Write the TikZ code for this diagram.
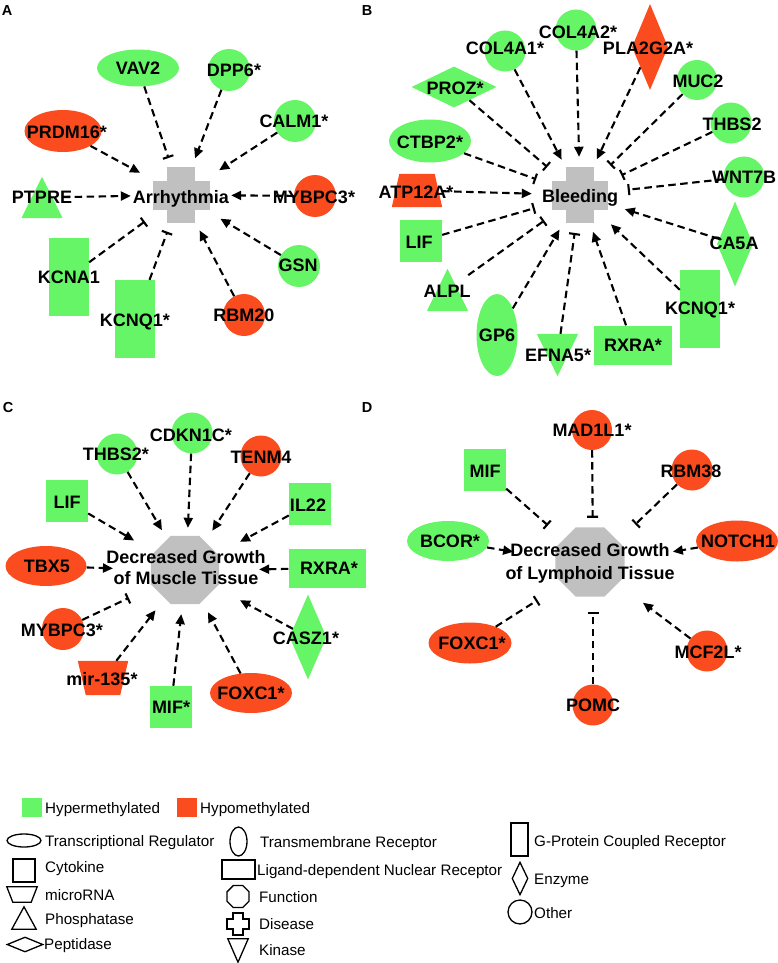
\documentclass[tikz,border=0pt]{standalone}
\usepackage{fontspec}
\setmainfont{Liberation Sans}
\usetikzlibrary{shapes.geometric,arrows.meta}
\definecolor{grn}{RGB}{102,245,102}
\definecolor{org}{RGB}{250,76,30}
\definecolor{gry}{RGB}{192,192,192}
\begin{document}
\begin{tikzpicture}[x=1pt,y=-1pt,
  lab/.style={font=\bfseries\fontsize{18}{20}\selectfont, inner sep=0pt, text height=12.9pt, text depth=0pt},
  plab/.style={font=\bfseries\fontsize{14.5}{16}\selectfont, inner sep=0pt, text height=10.4pt, text depth=0pt},
  leg/.style={font=\fontsize{15.2}{17}\selectfont, inner sep=0pt, anchor=west, text height=10.9pt, text depth=0pt},
  gnode/.style={fill=grn, draw=none, inner sep=0pt},
  rnode/.style={fill=org, draw=none, inner sep=0pt},
  ghost/.style={rectangle, draw=none, inner sep=0pt},
  hub/.style={ellipse, draw=none, inner sep=0pt},
  legshape/.style={draw=black, line width=1.3pt, inner sep=0pt, fill=none},
  cline/.style={line width=2.1pt, dash pattern=on 7.5pt off 4.5pt},
  act/.style={cline, -{Triangle[length=10pt,width=9pt]}},
  inh/.style={cline, -{Bar[width=11pt,line width=2.1pt]}}
]
\useasboundingbox (0,0) rectangle (778,963);

% ================= Panel A =================
\node[plab] (pA) at (7,10) {A};
\node[hub, minimum width=100, minimum height=76] (hubA) at (181,195) {};
\node[ghost, minimum width=57, minimum height=56] (crossA) at (181,195) {};
\fill[gry] (crossA.center) ++(-14,-28) rectangle ++(28,56);
\fill[gry] (crossA.center) ++(-28.5,-14.5) rectangle ++(57,29);

\node[gnode, ellipse, minimum width=82, minimum height=37] (vav2) at (138,68) {};
\node[gnode, circle, minimum size=42] (dpp6) at (229,70) {};
\node[gnode, circle, minimum size=42] (calm1) at (295,121) {};
\node[rnode, ellipse, minimum width=77, minimum height=42] (prdm16) at (63,131) {};
\node[ghost, minimum width=41, minimum height=41] (ptpre) at (42,197.5) {};
\fill[grn] (ptpre.south west) -- (ptpre.south east) -- (ptpre.north) -- cycle;
\node[gnode, minimum width=40, minimum height=78] (kcna1) at (69,277) {};
\node[gnode, minimum width=40, minimum height=78] (kcnq1a) at (135,319) {};
\node[rnode, circle, minimum size=42] (rbm20) at (244,315) {};
\node[gnode, circle, minimum size=42] (gsn) at (299,266) {};
\node[rnode, circle, minimum size=42] (mybpc3a) at (315,196) {};

\draw[inh] (vav2) -- (hubA);
\draw[act] (dpp6) -- (hubA);
\draw[act] (calm1) -- (hubA);
\draw[act] (prdm16) -- (hubA);
\draw[act] (ptpre) -- (hubA);
\draw[act] (mybpc3a) -- (hubA);
\draw[act] (gsn) -- (hubA);
\draw[act] (rbm20) -- (hubA);
\draw[inh] (kcnq1a) -- (hubA);
\draw[inh] (kcna1) -- (hubA);

\node[lab] (tarr) at (181,197) {Arrhythmia};
\node[lab] (tvav2) at (138,68) {VAV2};
\node[lab] (tdpp6) at (234,70) {DPP6*};
\node[lab] (tcalm1) at (294,121) {CALM1*};
\node[lab] (tprdm16) at (67,132) {PRDM16*};
\node[lab] (tptpre) at (42,197) {PTPRE};
\node[lab] (tkcna1) at (69,277) {KCNA1};
\node[lab] (tkcnq1a) at (135,320) {KCNQ1*};
\node[lab] (trbm20) at (244,315) {RBM20};
\node[lab] (tgsn) at (298,265) {GSN};
\node[lab] (tmybpc3a) at (314,197) {MYBPC3*};

% ================= Panel B =================
\node[plab] (pB) at (367,10) {B};
\node[hub, minimum width=96, minimum height=76] (hubB) at (580,195) {};
\node[ghost, minimum width=56, minimum height=56] (crossB) at (580,195) {};
\fill[gry] (crossB.center) ++(-14,-28) rectangle ++(28,56);
\fill[gry] (crossB.center) ++(-28,-14.5) rectangle ++(56,29);

\node[gnode, circle, minimum size=41] (col4a1) at (505,51) {};
\node[gnode, circle, minimum size=41] (col4a2) at (576,30) {};
\node[rnode, diamond, minimum width=36, minimum height=86] (pla2g2a) at (650,47) {};
\node[gnode, circle, minimum size=40] (muc2) at (697,80) {};
\node[gnode, circle, minimum size=41] (thbs2b) at (731,123) {};
\node[gnode, circle, minimum size=41] (wnt7b) at (744,177) {};
\node[gnode, diamond, minimum width=36, minimum height=85] (ca5a) at (735,244) {};
\node[gnode, minimum width=40, minimum height=78] (kcnq1b) at (700,309) {};
\node[gnode, minimum width=78, minimum height=39] (rxrab) at (633,345) {};
\node[ghost, minimum width=41, minimum height=42] (efna5) at (557.5,355) {};
\fill[grn] (efna5.north west) -- (efna5.north east) -- (efna5.south) -- cycle;
\node[gnode, ellipse, minimum width=41, minimum height=82] (gp6) at (497,335) {};
\node[ghost, minimum width=41, minimum height=42] (alpl) at (447.5,290) {};
\fill[grn] (alpl.south west) -- (alpl.south east) -- (alpl.north) -- cycle;
\node[gnode, minimum size=42] (lifb) at (421,241) {};
\node[ghost, minimum width=50, minimum height=33] (atp12a) at (417,190.5) {};
\fill[org] (atp12a.south west) -- (atp12a.south east) -- ([xshift=-7.5pt]atp12a.north east) -- ([xshift=7.5pt]atp12a.north west) -- cycle;
\node[gnode, ellipse, minimum width=82, minimum height=43] (ctbp2) at (430,141) {};
\node[gnode, diamond, minimum width=85, minimum height=41] (proz) at (454,87) {};

\draw[act] (col4a1) -- (hubB);
\draw[act] (col4a2) -- (hubB);
\draw[act] (pla2g2a) -- (hubB);
\draw[inh] (muc2) -- (hubB);
\draw[inh] (thbs2b) -- (hubB);
\draw[inh] (wnt7b) -- (hubB);
\draw[act] (ca5a) -- (hubB);
\draw[act] (kcnq1b) -- (hubB);
\draw[act] (rxrab) -- (hubB);
\draw[inh] (efna5) -- (hubB);
\draw[act] (gp6) -- (hubB);
\draw[inh] (alpl) -- (hubB);
\draw[inh] (lifb) -- (hubB);
\draw[act] (atp12a) -- (hubB);
\draw[inh] (ctbp2) -- (hubB);
\draw[inh] (proz) -- (hubB);

\node[lab] (tbleed) at (580,196) {Bleeding};
\node[lab] (tcol4a1) at (505,48) {COL4A1*};
\node[lab] (tcol4a2) at (578,32) {COL4A2*};
\node[lab] (tpla2g2a) at (648,48) {PLA2G2A*};
\node[lab] (tmuc2) at (698,81) {MUC2};
\node[lab] (tthbs2b) at (732,124) {THBS2};
\node[lab] (twnt7b) at (744,177) {WNT7B};
\node[lab] (tca5a) at (734,243) {CA5A};
\node[lab] (tkcnq1b) at (700,308) {KCNQ1*};
\node[lab] (trxrab) at (633,345) {RXRA*};
\node[lab] (tefna5) at (558,355) {EFNA5*};
\node[lab] (tgp6) at (497,335) {GP6};
\node[lab] (talpl) at (447,291) {ALPL};
\node[lab] (tlifb) at (419,242) {LIF};
\node[lab] (tatp12a) at (416,192) {ATP12A*};
\node[lab] (tctbp2) at (430,142) {CTBP2*};
\node[lab] (tproz) at (455,88) {PROZ*};

% ================= Panel C =================
\node[plab] (pC) at (8,407) {C};
\node[hub, minimum width=146, minimum height=86] (hubC) at (186,571) {};
\node[regular polygon, regular polygon sides=8, minimum size=74, fill=gry, inner sep=0pt] (octC) at (185,570) {};

\node[gnode, circle, minimum size=41] (thbs2c) at (117,454) {};
\node[gnode, circle, minimum size=41] (cdkn1c) at (192,433) {};
\node[rnode, circle, minimum size=41] (tenm4) at (261,456) {};
\node[gnode, minimum size=42] (lifc) at (67,501) {};
\node[gnode, minimum size=42] (il22) at (310,504) {};
\node[rnode, ellipse, minimum width=81, minimum height=40] (tbx5) at (46,566) {};
\node[gnode, minimum width=77, minimum height=39] (rxrac) at (327,568) {};
\node[gnode, diamond, minimum width=37, minimum height=85] (casz1) at (308,637) {};
\node[rnode, ellipse, minimum width=82, minimum height=40] (foxc1c) at (251,693) {};
\node[gnode, minimum size=42] (mifc) at (171,707) {};
\node[ghost, minimum width=50, minimum height=34] (mir135) at (103,678) {};
\fill[org] (mir135.north west) -- (mir135.north east) -- ([xshift=-8pt]mir135.south east) -- ([xshift=8pt]mir135.south west) -- cycle;
\node[rnode, circle, minimum size=42] (mybpc3c) at (63,629) {};

\draw[act] (thbs2c) -- (hubC);
\draw[act] (cdkn1c) -- (hubC);
\draw[act] (tenm4) -- (hubC);
\draw[act] (lifc) -- (hubC);
\draw[act] (il22) -- (hubC);
\draw[act] (tbx5) -- (hubC);
\draw[act] (rxrac) -- (hubC);
\draw[act] (casz1) -- (hubC);
\draw[act] (foxc1c) -- (hubC);
\draw[act] (mifc) -- (hubC);
\draw[act] (mir135) -- (hubC);
\draw[inh] (mybpc3c) -- (hubC);

\node[lab] (tdgm1) at (186,557) {Decreased Growth};
\node[lab] (tdgm2) at (186,578) {of Muscle Tissue};
\node[lab] (tthbs2c) at (116,454) {THBS2*};
\node[lab] (tcdkn1c) at (191,435) {CDKN1C*};
\node[lab] (ttenm4) at (261,457) {TENM4};
\node[lab] (tlifc) at (67,502) {LIF};
\node[lab] (til22) at (308,505) {IL22};
\node[lab] (ttbx5) at (47,566) {TBX5};
\node[lab] (trxrac) at (329,568) {RXRA*};
\node[lab] (tcasz1) at (306,638) {CASZ1*};
\node[lab] (tfoxc1c) at (251,693) {FOXC1*};
\node[lab] (tmifc) at (171,707) {MIF*};
\node[lab] (tmir135) at (102,679) {mir-135*};
\node[lab] (tmybpc3c) at (62,630) {MYBPC3*};

% ================= Panel D =================
\node[plab] (pD) at (367,407) {D};
\node[hub, minimum width=166, minimum height=94] (hubD) at (593,565) {};
\node[regular polygon, regular polygon sides=8, minimum size=75, fill=gry, inner sep=0pt] (octD) at (590,562) {};

\node[rnode, circle, minimum size=40] (mad1l1) at (592,430) {};
\node[rnode, circle, minimum size=41] (rbm38) at (692,470) {};
\node[gnode, minimum size=42] (mifd) at (485,470) {};
\node[gnode, ellipse, minimum width=82, minimum height=40] (bcor) at (448,541) {};
\node[rnode, ellipse, minimum width=82, minimum height=41] (notch1) at (737,541) {};
\node[rnode, ellipse, minimum width=83, minimum height=41] (foxc1d) at (470,643) {};
\node[rnode, circle, minimum size=41] (pomc) at (593,705) {};
\node[rnode, circle, minimum size=41] (mcf2l) at (707,651) {};

\draw[inh] (mad1l1) -- (hubD);
\draw[inh] (rbm38) -- (hubD);
\draw[inh] (mifd) -- (hubD);
\draw[act] (bcor) -- (hubD);
\draw[act] (notch1) -- (hubD);
\draw[inh] (foxc1d) -- (hubD);
\draw[inh] (pomc) -- (hubD);
\draw[act] (mcf2l) -- (hubD);

\node[lab] (tdgl1) at (590,550) {Decreased Growth};
\node[lab] (tdgl2) at (590,573) {of Lymphoid Tissue};
\node[lab] (tmad1l1) at (592,430) {MAD1L1*};
\node[lab] (trbm38) at (691,471) {RBM38};
\node[lab] (tmifd) at (485,471) {MIF};
\node[lab] (tbcor) at (450,541) {BCOR*};
\node[lab] (tnotch1) at (738,541) {NOTCH1};
\node[lab] (tfoxc1d) at (472,643) {FOXC1*};
\node[lab] (tpomc) at (593,705) {POMC};
\node[lab] (tmcf2l) at (708,652) {MCF2L*};

% ================= Legend =================
\node[gnode, minimum width=20, minimum height=19] (lghyper) at (32,807.5) {};
\node[leg] (tlghyper) at (45,808) {Hypermethylated};
\node[rnode, minimum width=20, minimum height=19] (lghypo) at (187,807.5) {};
\node[leg] (tlghypo) at (200,808) {Hypomethylated};

\node[legshape, ellipse, minimum width=34, minimum height=13] (lgtr) at (24,840.5) {};
\node[leg] (tlgtr) at (45,841) {Transcriptional Regulator};
\node[legshape, minimum width=22, minimum height=23] (lgcyt) at (24,870.5) {};
\node[leg] (tlgcyt) at (45,867) {Cytokine};
\node[ghost, minimum width=30, minimum height=15] (lgmir) at (22,894.5) {};
\draw[line width=1.3pt, line join=miter] (lgmir.north west) -- (lgmir.north east) -- ([xshift=-6pt]lgmir.south east) -- ([xshift=6pt]lgmir.south west) -- cycle;
\node[leg] (tlgmir) at (45,895) {microRNA};
\node[ghost, minimum width=24, minimum height=22] (lgpho) at (24,918) {};
\draw[line width=1.3pt] (lgpho.south west) -- (lgpho.south east) -- (lgpho.north) -- cycle;
\node[leg] (tlgpho) at (45,919) {Phosphatase};
\node[legshape, diamond, minimum width=36, minimum height=15] (lgpep) at (25,944.5) {};
\node[leg] (tlgpep) at (44,944) {Peptidase};

\node[legshape, ellipse, minimum width=17, minimum height=29] (lgtm) at (238.5,841.5) {};
\node[leg] (tlgtm) at (260,842) {Transmembrane Receptor};
\node[legshape, minimum width=33, minimum height=19] (lglnr) at (238.5,869.5) {};
\node[leg] (tlglnr) at (257,870) {Ligand-dependent Nuclear Receptor};
\node[legshape, regular polygon, regular polygon sides=8, minimum size=24] (lgfun) at (238,896.5) {};
\node[leg] (tlgfun) at (259,897) {Function};
\node[ghost, minimum width=22, minimum height=22] (lgdis) at (238,924) {};
\draw[line width=1.3pt] (lgdis.center) ++(-5,-11) -- ++(10,0) -- ++(0,6) -- ++(6,0) -- ++(0,10) -- ++(-6,0) -- ++(0,6) -- ++(-10,0) -- ++(0,-6) -- ++(-6,0) -- ++(0,-10) -- ++(6,0) -- cycle;
\node[leg] (tlgdis) at (259,924) {Disease};
\node[ghost, minimum width=20, minimum height=23] (lgkin) at (238,950.5) {};
\draw[line width=1.3pt] (lgkin.north west) -- (lgkin.north east) -- (lgkin.south) -- cycle;
\node[leg] (tlgkin) at (259,950) {Kinase};

\node[legshape, minimum width=17, minimum height=33] (lggpcr) at (519.5,839.5) {};
\node[leg] (tlggpcr) at (534,841) {G-Protein Coupled Receptor};
\node[legshape, diamond, minimum width=16, minimum height=33] (lgenz) at (520,878.5) {};
\node[leg] (tlgenz) at (534,879) {Enzyme};
\node[legshape, circle, minimum size=24] (lgoth) at (520,912) {};
\node[leg] (tlgoth) at (534,913) {Other};
\end{tikzpicture}
\end{document}
